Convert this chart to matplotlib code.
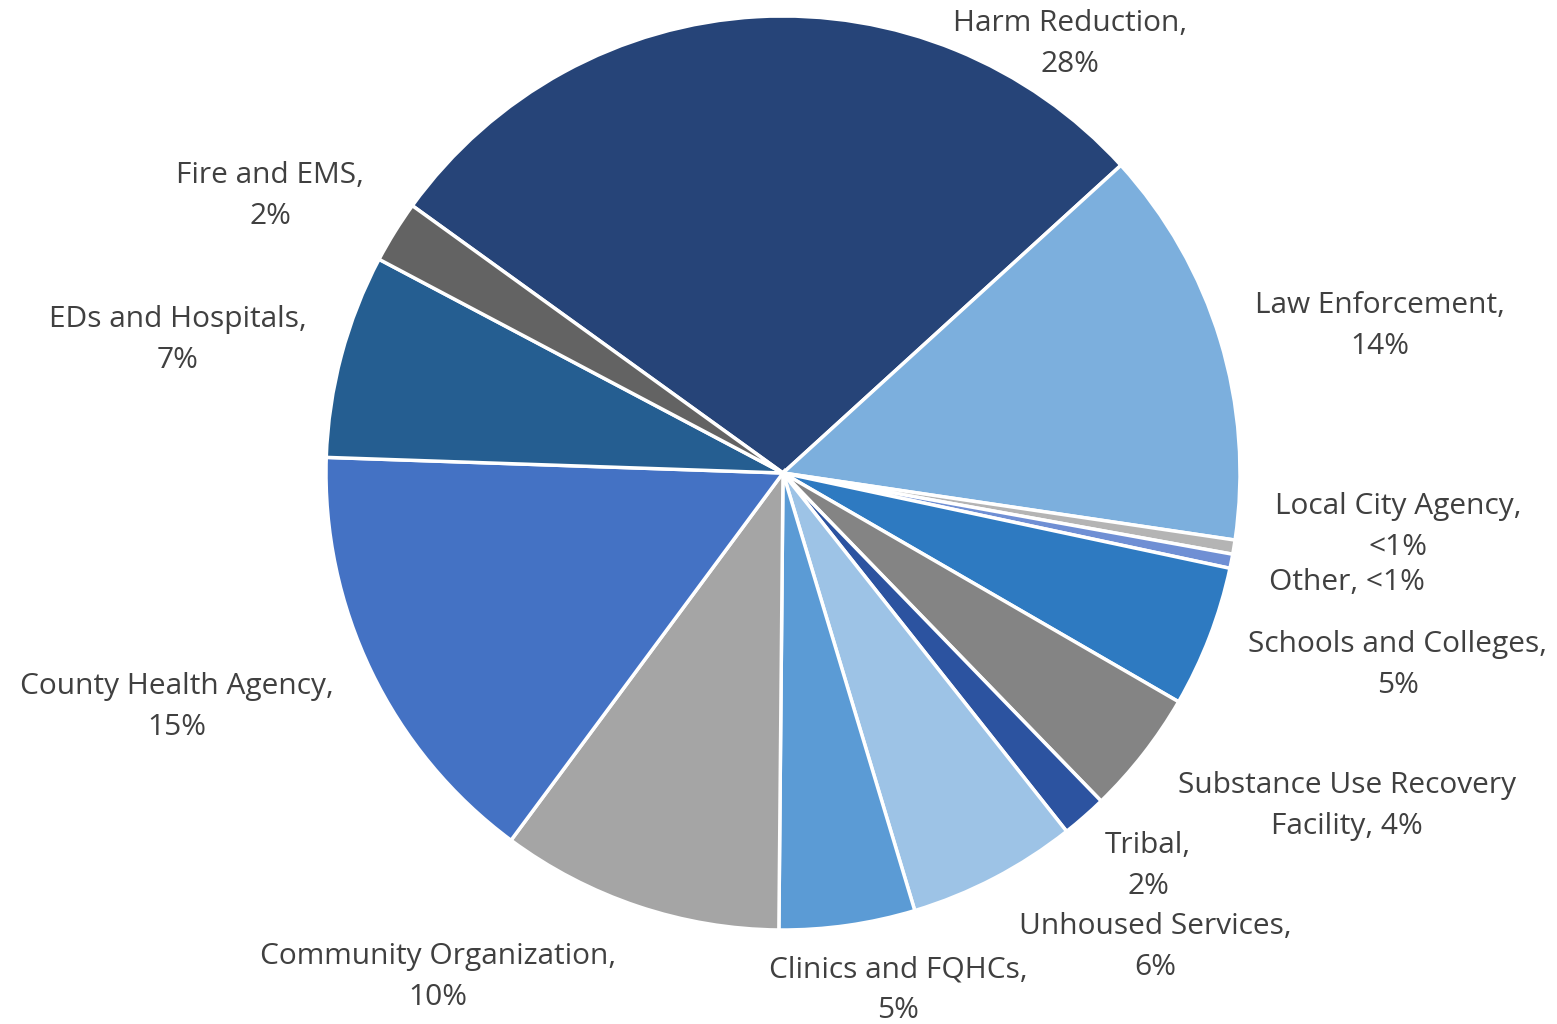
import matplotlib
matplotlib.use("Agg")
import matplotlib.pyplot as plt

categories = ["Harm Reduction", "Law Enforcement", "Local City Agency", "Other",
              "Schools and Colleges", "Substance Use Recovery Facility", "Tribal",
              "Unhoused Services", "Clinics and FQHCs", "Community Organization",
              "County Health Agency", "EDs and Hospitals", "Fire and EMS"]
shares = [28.3, 14.1, 0.5, 0.5, 5.0, 4.4, 1.6, 6.0, 4.8, 10.0, 15.4, 7.2, 2.2]
pct_labels = ["28%", "14%", "<1%", "<1%", "5%", "4%", "2%", "6%", "5%", "10%", "15%", "7%", "2%"]

colors = ["#264478", "#7CAFDD", "#B4B4B4", "#6F8FD4", "#2E7AC1", "#848484", "#2C53A0",
          "#9DC3E6", "#5B9BD5", "#A5A5A5", "#4472C4", "#255E91", "#636363"]

# how each label is broken into lines, and its pixel centre
label_text = ["Harm Reduction,\n28%", "Law Enforcement,\n14%", "Local City Agency,\n<1%",
              "Other, <1%", "Schools and Colleges,\n5%", "Substance Use Recovery\nFacility, 4%",
              "Tribal,\n2%", "Unhoused Services,\n6%", "Clinics and FQHCs,\n5%",
              "Community Organization,\n10%", "County Health Agency,\n15%",
              "EDs and Hospitals,\n7%", "Fire and EMS,\n2%"]
label_pos = [(1070, 44), (1380, 326), (1398, 527), (1347, 583), (1398, 665), (1347, 806),
             (1148, 866), (1155, 947), (898, 990), (438, 977), (177, 707), (178, 340), (270, 196)]

W, H = 1557, 1024
fig = plt.figure(figsize=(W / 100, H / 100), dpi=100)
cx, cy, r = 783, 473, 457
ax = fig.add_axes([(cx - r) / W, (H - cy - r) / H, 2 * r / W, 2 * r / H])
ax.pie(shares, colors=colors, startangle=144.2, counterclock=False, radius=1,
       wedgeprops=dict(edgecolor="white", linewidth=2.5))
ax.set_xlim(-1.0, 1.0)
ax.set_ylim(-1.0, 1.0)
ax.axis("off")

for txt, (px, py) in zip(label_text, label_pos):
    fig.text(px / W, 1 - py / H, txt, ha="center", va="center", fontsize=21.5,
             color="#404040", family=["Open Sans", "DejaVu Sans"], linespacing=1.52)

fig.savefig("out.png", dpi=100)
